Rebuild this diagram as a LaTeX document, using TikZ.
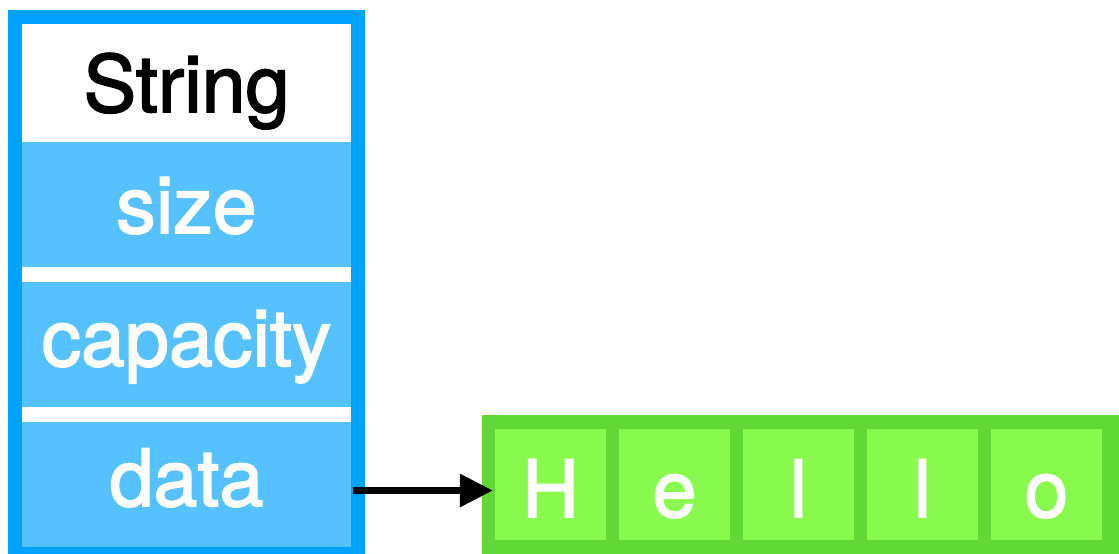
\documentclass[tikz,border=0pt]{standalone}
\usepackage{fontspec}
\setmainfont[FakeBold=2]{TeX Gyre Heros}
\usepackage{tikz}
\usetikzlibrary{arrows.meta}
\definecolor{frameblue}{RGB}{0,162,255}
\definecolor{fieldblue}{RGB}{86,193,255}
\definecolor{framegreen}{RGB}{97,216,54}
\definecolor{cellgreen}{RGB}{136,250,78}

\begin{document}
\begin{tikzpicture}[x=1pt,y=-1pt,
    field/.style={fill=fieldblue, minimum width=329pt, minimum height=125pt, inner sep=0pt},
    cell/.style={fill=cellgreen, minimum width=111pt, minimum height=111pt, inner sep=0pt},
    word/.style={anchor=base, inner sep=0pt, white, font=\fontsize{79}{82}\selectfont}]
    \useasboundingbox (0,0) rectangle (1119,554);
    % the struct
    \fill[frameblue] (8,10) rectangle (365,560);
    \fill[white] (22,24) rectangle (351,547);
    \node[field] (size)     at (186.5,204.5) {};
    \node[field] (capacity) at (186.5,344.5) {};
    \node[field] (data)     at (186.5,484.5) {};
    \node[word, black] (title) at (186.5,112) {String};
    \node[word] at (186.5,233) {size};
    \node[word] at (186.5,366) {capacity};
    \node[word] at (186.5,506) {data};
    % the heap buffer
    \fill[framegreen] (482,415) rectangle (1125,560);
    \foreach \ch [count=\i from 0] in {H,e,l,l,o} {
        \node[cell] (c\i) at (550.5+124*\i,484.5) {};
        \node[word] at (550.5+124*\i,517) {\ch};
    }
    \draw[line width=6.5pt, -{Triangle[length=33pt,width=32pt]}, shorten >=2pt]
        ([xshift=2pt,yshift=-6pt]data.east) -- ([yshift=-6pt]c0.west);
\end{tikzpicture}
\end{document}
